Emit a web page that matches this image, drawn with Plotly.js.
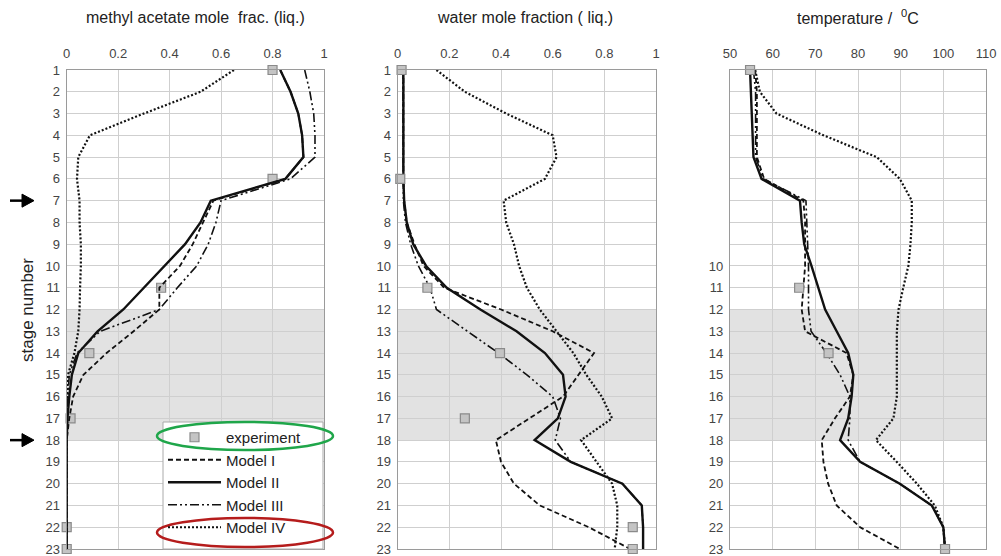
<!DOCTYPE html>
<html>
<head>
<meta charset="utf-8">
<script src="https://cdn.plot.ly/plotly-3.0.1.min.js"></script>
<style>html,body{margin:0;padding:0;background:#fff;}#chart{width:1001px;height:556px;}</style>
</head>
<body>
<div id="chart"></div>
<script>
// ---------- data ----------
const stages = [1,2,3,4,5,6,7,8,9,10,11,12,13,14,15,16,17,18,19,20,21,22,23];
const stageTicks = ['1','2','3','4','5','6','7','8','9','10','11','12','13','14','15','16','17','18','19','20','21','22','23'];
const stageTicksTemp = [10,11,12,13,14,15,16,17,18,19,20,21,22,23];
const seriesNames = ['experiment','Model I','Model II','Model III','Model IV'];

// methyl acetate mole fraction (liquid)
const expStagesMA = [1,6,11,14,17,22,23];
const expMA = [0.80,0.80,0.367,0.088,0.015,0.0,0.0];
const maModelI   = [0.83,0.87,0.90,0.915,0.92,0.85,0.57,0.53,0.49,0.44,0.36,0.36,0.26,0.155,0.065,0.025,0.01,0,0,0,0,0,0];
const maModelII  = [0.83,0.87,0.90,0.915,0.92,0.85,0.56,0.52,0.46,0.38,0.30,0.22,0.12,0.045,0.02,0.01,0.003,0,0,0,0,0,0];
const maModelIII = [0.925,0.945,0.96,0.965,0.965,0.87,0.60,0.58,0.55,0.505,0.43,0.36,0.13,0.04,0.01,0.005,0,0,0,0,0,0,0];
const maModelIV  = [0.65,0.52,0.30,0.09,0.045,0.04,0.05,0.05,0.055,0.055,0.052,0.05,0.045,0.03,0.005,0.002,0,0,0,0,0,0,0];

// water mole fraction (liquid)
const expStagesW = [1,6,11,14,17,22,23];
const expW = [0.015,0.01,0.115,0.396,0.26,0.91,0.91];
const wModelI   = [0.022,0.022,0.022,0.022,0.022,0.022,0.025,0.035,0.065,0.10,0.18,0.40,0.60,0.76,0.70,0.64,0.51,0.38,0.40,0.45,0.55,0.74,0.90];
const wModelII  = [0.022,0.022,0.022,0.022,0.022,0.022,0.025,0.035,0.06,0.11,0.19,0.32,0.46,0.57,0.64,0.65,0.62,0.53,0.67,0.87,0.945,0.95,0.95];
const wModelIII = [0.02,0.02,0.02,0.02,0.02,0.02,0.022,0.03,0.05,0.08,0.125,0.15,0.27,0.39,0.50,0.60,0.63,0.61,0.67,0.87,0.945,0.95,0.95];
const wModelIV  = [0.15,0.26,0.42,0.60,0.615,0.57,0.41,0.42,0.45,0.47,0.50,0.55,0.615,0.68,0.73,0.79,0.83,0.71,0.77,0.83,0.85,0.85,0.84];

// temperature / °C
const expStagesT = [1,11,14,23];
const expT = [54.7,66.2,73.1,100.4];
const tModelI   = [55.9,56.3,56.3,56.3,56.3,58.0,67.2,67.6,67.6,67.6,67.2,66.8,67.6,77.3,78.9,78.1,74.6,71.5,71.9,73.0,75.0,80.5,89.8];
const tModelII  = [54.7,54.9,55.1,55.3,55.5,57.4,66.4,66.8,67.4,69.1,70.7,72.3,75.0,77.7,78.9,78.5,77.7,75.8,80.5,89.8,97.3,100.0,100.4];
const tModelIII = [55.5,56.0,56.0,56.0,56.0,57.8,67.8,68.0,68.2,68.4,68.4,68.4,69.0,72.6,75.8,78.1,78.1,77.7,80.5,89.8,97.3,100.0,100.4];
const tModelIV  = [55.9,57.0,60.9,71.9,84.4,89.8,92.6,92.6,92.3,91.8,90.6,89.5,89.1,89.1,89.1,89.1,88.3,84.2,89.1,93.8,98.0,100.0,100.4];

const panelTitles = ['methyl acetate mole  frac. (liq.)','water mole fraction ( liq.)','temperature /  <sup>0</sup>C'];
const fracTicks = [0,0.2,0.4,0.6,0.8,1];
const fracTickText = ['0','0.2','0.4','0.6','0.8','1'];
const tempTicks = [50,60,70,80,90,100,110];
const feedStages = [7,18];

// ---------- styles ----------
const FONT = 'Liberation Sans, Arial, sans-serif';
const dashes = {
  'Model I':   {dash:'5px,3px', width:1.8},
  'Model II':  {dash:'solid', width:2.4},
  'Model III': {dash:'9px,3px,2px,3px,2px,3px', width:1.6},
  'Model IV':  {dash:'2px,2px', width:2.2}
};

function modelTrace(name, xs, axisIdx){
  const sfx = axisIdx === 1 ? '' : String(axisIdx);
  return {
    x: xs, y: stages, type:'scatter', mode:'lines', name:name,
    legendgroup:name, showlegend: axisIdx === 1,
    xaxis:'x'+sfx, yaxis:'y'+sfx, cliponaxis:false,
    line:{color:'#111', dash:dashes[name].dash, width:dashes[name].width},
    hoverinfo:'skip'
  };
}
function expTrace(xs, ys, axisIdx){
  const sfx = axisIdx === 1 ? '' : String(axisIdx);
  return {
    x: xs, y: ys, type:'scatter', mode:'markers', name:'experiment',
    legendgroup:'experiment', showlegend: axisIdx === 1,
    xaxis:'x'+sfx, yaxis:'y'+sfx, cliponaxis:false,
    marker:{symbol:'square', size:9, color:'#c4c4c4', line:{color:'#8a8a8a', width:1.2}},
    hoverinfo:'skip'
  };
}

const data = [
  expTrace(expMA, expStagesMA, 1),
  modelTrace('Model I', maModelI, 1),
  modelTrace('Model II', maModelII, 1),
  modelTrace('Model III', maModelIII, 1),
  modelTrace('Model IV', maModelIV, 1),
  modelTrace('Model I', wModelI, 2),
  modelTrace('Model II', wModelII, 2),
  modelTrace('Model III', wModelIII, 2),
  modelTrace('Model IV', wModelIV, 2),
  expTrace(expW, expStagesW, 2),
  modelTrace('Model I', tModelI, 3),
  modelTrace('Model II', tModelII, 3),
  modelTrace('Model III', tModelIII, 3),
  modelTrace('Model IV', tModelIV, 3),
  expTrace(expT, expStagesT, 3)
];

const W = 1001, H = 556;
const yDom = [(H-549)/H, (H-70)/H];
const xDoms = [[66.7/W, 324/W], [397.7/W, 656/W], [730/W, 986/W]];

function xAxis(i){
  const isTemp = i === 2;
  return {
    domain: xDoms[i], anchor: i===0 ? 'y' : 'y'+(i+1), side:'top',
    range: isTemp ? [50,110] : [0,1],
    tickvals: isTemp ? tempTicks : fracTicks,
    ticktext: isTemp ? tempTicks.map(String) : fracTickText,
    showgrid:true, gridcolor:'#cfcfcf', gridwidth:1,
    showline:true, mirror:true, linecolor:'#9a9a9a', linewidth:1.2,
    zeroline:false, ticks:'', fixedrange:true, automargin:false,
    ticklabelstandoff:6, ticklabeloverflow:'allow',
    tickfont:{family:FONT, size:13, color:'#444'}
  };
}
function yAxis(i){
  const isTemp = i === 2;
  const ax = {
    domain: yDom, anchor: i===0 ? 'x' : 'x'+(i+1),
    range:[23.0005,0.9995],
    tickvals: isTemp ? stageTicksTemp : stages,
    ticktext: isTemp ? stageTicksTemp.map(String) : stageTicks,
    showgrid:true, gridcolor:'#cfcfcf', gridwidth:1,
    showline:true, mirror:true, linecolor:'#9a9a9a', linewidth:1.2,
    zeroline:false, ticks:'', fixedrange:true, automargin:false,
    ticklabelstandoff:3, ticklabeloverflow:'allow',
    tickfont:{family:FONT, size:13, color:'#444'}
  };
  if (isTemp) ax.minor = {tickmode:'array', tickvals:stages, showgrid:true, gridcolor:'#cfcfcf', gridwidth:1, ticks:''};
  return ax;
}

const shapes = [];
const xrefs = ['x','x2','x3'], yrefs = ['y','y2','y3'];
const xr = [[0,1],[0,1],[50,110]];
for (let i=0;i<3;i++){
  shapes.push({type:'rect', xref:xrefs[i], yref:yrefs[i], x0:xr[i][0], x1:xr[i][1], y0:12, y1:18,
    fillcolor:'#e2e2e2', line:{width:0}, layer:'below'});
}
// feed arrows
feedStages.forEach(s => {
  shapes.push({type:'line', xref:'paper', yref:'y', x0:10/W, x1:26/W, y0:s, y1:s,
    line:{color:'#000', width:2.5}});
  shapes.push({type:'path', xref:'paper', yref:'y',
    path:`M ${22/W} ${s-0.3} L ${34/W} ${s} L ${22/W} ${s+0.3} Z`,
    fillcolor:'#000', line:{color:'#000', width:1}});
});
// legend box
shapes.push({type:'rect', xref:'paper', yref:'paper', x0:163/W, x1:323/W, y0:(H-549)/H, y1:(H-422)/H,
  fillcolor:'#fff', line:{color:'#aaa', width:1}, layer:'above'});
// highlight ellipses around legend entries
shapes.push({type:'circle', xref:'paper', yref:'paper', x0:157/W, x1:333/W, y0:(H-450)/H, y1:(H-422)/H,
  line:{color:'#1fa64a', width:2.5}, layer:'above'});
shapes.push({type:'circle', xref:'paper', yref:'paper', x0:157/W, x1:333/W, y0:(H-547)/H, y1:(H-518)/H,
  line:{color:'#b51c1c', width:2.5}, layer:'above'});

const annotations = [];
const titleX = [195, 525, 858];
for (let i=0;i<3;i++){
  annotations.push({text:panelTitles[i], xref:'paper', yref:'paper', x:titleX[i]/W, y:(H-17)/H,
    showarrow:false, xanchor:'center', yanchor:'middle', font:{family:FONT, size:16, color:'#222'}});
}
annotations.push({text:'stage number', xref:'paper', yref:'paper', x:27/W, y:(H-310)/H, textangle:-90,
  showarrow:false, xanchor:'center', yanchor:'middle', font:{family:FONT, size:17, color:'#222'}});

const layout = {
  width:W, height:H, margin:{l:0,r:0,t:0,b:0},
  paper_bgcolor:'#fff', plot_bgcolor:'#fff',
  font:{family:FONT, color:'#222'},
  xaxis:xAxis(0), yaxis:yAxis(0),
  xaxis2:xAxis(1), yaxis2:yAxis(1),
  xaxis3:xAxis(2), yaxis3:yAxis(2),
  shapes:shapes, annotations:annotations,
  showlegend:true,
  legend:{x:163/W, y:(H-421)/H, xanchor:'left', yanchor:'top',
    bgcolor:'rgba(0,0,0,0)', borderwidth:0,
    font:{family:FONT, size:15, color:'#222'}, itemwidth:53,
    tracegroupgap:2.3, traceorder:'normal'}
};

Plotly.newPlot('chart', data, layout, {staticPlot:true, displayModeBar:false});
</script>
</body>
</html>
